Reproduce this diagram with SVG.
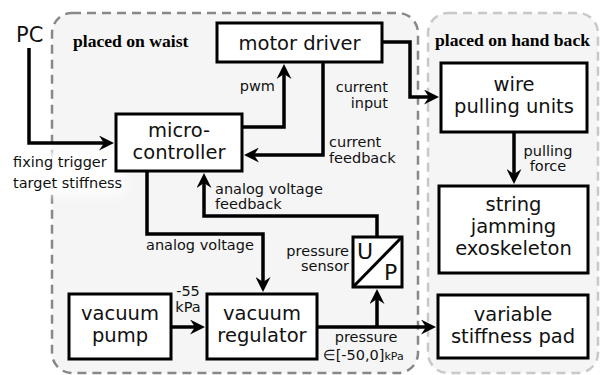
<svg xmlns="http://www.w3.org/2000/svg" width="600" height="375" viewBox="0 0 600 375">
<defs>
<style>
.region{fill:#f5f5f5;stroke-width:2.5;stroke-dasharray:9 6}
.box{fill:#fff;stroke:#000;stroke-width:3}
.bt{font-family:"DejaVu Sans",Verdana,sans-serif;font-size:19.5px;fill:#111;text-anchor:middle}
.lb{font-family:"DejaVu Sans",Verdana,sans-serif;font-size:14.5px;fill:#111}
.ttl{font-family:"Liberation Serif","Times New Roman",serif;font-weight:bold;font-size:17.6px;fill:#000}
.wire{fill:none;stroke:#000;stroke-width:3.5;marker-end:url(#ah)}
</style>
<marker id="ah" markerUnits="userSpaceOnUse" markerWidth="15" markerHeight="15" refX="6" refY="7.5" orient="auto">
<path d="M0,0 L15,7.5 L0,15 L5,7.5 z" fill="#000"/>
</marker>
<filter id="blur" x="-30%" y="-50%" width="160%" height="200%"><feGaussianBlur stdDeviation="6"/></filter>
</defs>
<rect width="600" height="375" fill="#fff"/>
<g id="region-waist">
<rect class="region" x="52" y="13" width="366" height="360" rx="20" stroke="#888"/>
<text class="ttl" x="73" y="47">placed on waist</text>
</g>
<g id="region-hand">
<rect class="region" x="428" y="13" width="170" height="360" rx="20" stroke="#c8c8c8"/>
<text class="ttl" x="435" y="46">placed on hand back</text>
</g>
<rect x="6" y="150" width="118" height="44" fill="#fff" filter="url(#blur)"/>
<g id="connectors">
<path class="wire" d="M29,48 V143 H105"/>
<path class="wire" d="M242,127 H284 V73"/>
<path class="wire" d="M323,62 V155 H253"/>
<path class="wire" d="M382,42 H410 V97 H430"/>
<path class="wire" d="M514,132 V175"/>
<path class="wire" d="M147,171 V234 H263 V283"/>
<path class="wire" d="M377,237 V216 H204 V182"/>
<path class="wire" d="M171,327 H196"/>
<path class="wire" d="M317,327 H427"/>
<path class="wire" d="M377,327 V298"/>
</g>
<g id="labels">
<text class="lb" x="16" y="42" style="font-size:21px">PC</text>
<text class="lb" x="13" y="167">fixing trigger</text>
<text class="lb" x="13" y="188">target stiffness</text>
<text class="lb" x="275" y="91" text-anchor="end">pwm</text>
<text class="lb" x="388" y="92" text-anchor="end">current</text>
<text class="lb" x="388" y="108" text-anchor="end">input</text>
<text class="lb" x="329" y="147">current</text>
<text class="lb" x="329" y="163">feedback</text>
<text class="lb" x="548" y="156" text-anchor="middle">pulling</text>
<text class="lb" x="548" y="171" text-anchor="middle">force</text>
<text class="lb" x="146" y="250">analog voltage</text>
<text class="lb" x="215" y="194">analog voltage</text>
<text class="lb" x="215" y="209">feedback</text>
<text class="lb" x="349" y="256" text-anchor="end">pressure</text>
<text class="lb" x="349" y="271" text-anchor="end">sensor</text>
<text class="lb" x="188" y="296" text-anchor="middle">-55</text>
<text class="lb" x="188" y="312" text-anchor="middle">kPa</text>
<text class="lb" x="366" y="342" text-anchor="middle">pressure</text>
<text class="lb" x="323" y="360">∈[-50,0]<tspan style="font-size:11px">kPa</tspan></text>
</g>
<g id="motor-driver">
<rect class="box" x="217" y="23" width="165" height="39"/>
<text class="bt" x="299.5" y="50">motor driver</text>
</g>
<g id="microcontroller">
<rect class="box" x="116" y="114" width="126" height="57"/>
<text class="bt" x="179" y="137">micro-</text>
<text class="bt" x="179" y="159">controller</text>
</g>
<g id="wire-pulling-units">
<rect class="box" x="441" y="63" width="146" height="69"/>
<text class="bt" x="514" y="91">wire</text>
<text class="bt" x="514" y="113">pulling units</text>
</g>
<g id="string-jamming-exoskeleton">
<rect class="box" x="439" y="186" width="149" height="87"/>
<text class="bt" x="513.5" y="211">string</text>
<text class="bt" x="513.5" y="233">jamming</text>
<text class="bt" x="513.5" y="255">exoskeleton</text>
</g>
<g id="variable-stiffness-pad">
<rect class="box" x="438" y="295" width="150" height="63"/>
<text class="bt" x="513" y="321">variable</text>
<text class="bt" x="513" y="343">stiffness pad</text>
</g>
<g id="vacuum-pump">
<rect class="box" x="69" y="294" width="102" height="65"/>
<text class="bt" x="120" y="320">vacuum</text>
<text class="bt" x="120" y="342">pump</text>
</g>
<g id="vacuum-regulator">
<rect class="box" x="207" y="294" width="110" height="65"/>
<text class="bt" x="262" y="320">vacuum</text>
<text class="bt" x="262" y="342">regulator</text>
</g>
<g id="pressure-sensor">
<rect class="box" x="353" y="237" width="49" height="50"/>
<path d="M353,287 L402,237" stroke="#000" stroke-width="3"/>
<text class="bt" x="357" y="259" style="font-size:22px;text-anchor:start">U</text>
<text class="bt" x="384" y="280" style="font-size:22px;text-anchor:start">P</text>
</g>
</svg>
